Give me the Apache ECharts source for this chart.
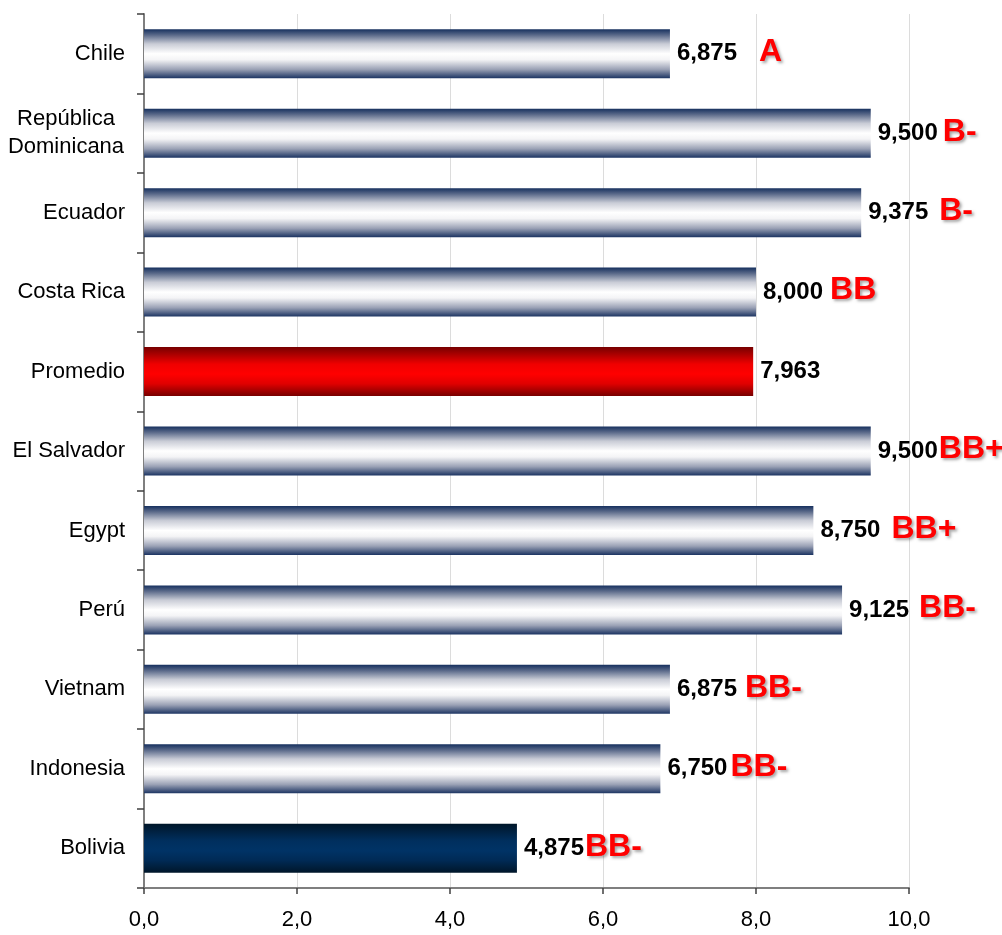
<!DOCTYPE html>
<html>
<head>
<meta charset="utf-8">
<script src="https://cdn.jsdelivr.net/npm/echarts@6/dist/echarts.min.js"></script>
<style>
html,body{margin:0;padding:0;background:#fff;}
#chart{width:1002px;height:935px;}
</style>
</head>
<body>
<div id="chart"></div>
<script>
const categories = ['Chile', 'República\nDominicana', 'Ecuador', 'Costa Rica', 'Promedio', 'El Salvador', 'Egypt', 'Perú', 'Vietnam', 'Indonesia', 'Bolivia'];
const scores = [6.875, 9.5, 9.375, 8.0, 7.963, 9.5, 8.75, 9.125, 6.875, 6.75, 4.875];
const ratings = ['A', 'B-', 'B-', 'BB', '', 'BB+', 'BB+', 'BB-', 'BB-', 'BB-', 'BB-'];
const xTicks = [0, 2, 4, 6, 8, 10];

// style only: gap between value and rating text (px)
const ratingGaps = [22, 5, 11, 7, 0, 1, 11, 10, 8, 3, 1];

const FONT = 'Liberation Sans, Arial, sans-serif';

const navyGrad = new echarts.graphic.LinearGradient(0, 0, 0, 1, [
  { offset: 0, color: '#16305e' },
  { offset: 0.12, color: '#5b6a8a' },
  { offset: 0.3, color: '#c9ccd6' },
  { offset: 0.5, color: '#ffffff' },
  { offset: 0.62, color: '#f4f4f6' },
  { offset: 0.82, color: '#9aa1b5' },
  { offset: 1, color: '#1c3462' }
]);
const redGrad = new echarts.graphic.LinearGradient(0, 0, 0, 1, [
  { offset: 0, color: '#770000' },
  { offset: 0.35, color: '#f00000' },
  { offset: 0.55, color: '#ff0000' },
  { offset: 0.75, color: '#e00000' },
  { offset: 1, color: '#770000' }
]);
const blueGrad = new echarts.graphic.LinearGradient(0, 0, 0, 1, [
  { offset: 0, color: '#001629' },
  { offset: 0.35, color: '#002f5e' },
  { offset: 0.55, color: '#003366' },
  { offset: 0.75, color: '#002a55' },
  { offset: 1, color: '#001629' }
]);

const rich = {
  v: { fontFamily: FONT, fontWeight: 'bold', fontSize: 24, color: '#000', verticalAlign: 'middle' }
};
ratingGaps.forEach((g, i) => {
  rich['r' + i] = {
    fontFamily: FONT, fontWeight: 'bold', fontSize: 32, color: '#ff0000',
    padding: [0, 0, 3, g], verticalAlign: 'middle',
    textShadowColor: 'rgba(0,0,0,0.35)', textShadowBlur: 3, textShadowOffsetX: 2, textShadowOffsetY: 2
  };
});

const fmt = v => v.toFixed(3).replace('.', ',');

const data = scores.map((v, i) => {
  let color = navyGrad;
  if (categories[i] === 'Promedio') color = redGrad;
  if (categories[i] === 'Bolivia') color = blueGrad;
  return { value: v, itemStyle: { color: color } };
});

const chart = echarts.init(document.getElementById('chart'));
chart.setOption({
  animation: false,
  backgroundColor: '#ffffff',
  grid: { left: 144, right: 93, top: 14, bottom: 47, containLabel: false },
  xAxis: {
    type: 'value',
    min: 0, max: 10, interval: 2,
    axisLine: { show: true, lineStyle: { color: '#7f7f7f', width: 2 } },
    axisTick: { show: true, length: 6, lineStyle: { color: '#404040', width: 1.5 } },
    splitLine: { show: true, lineStyle: { color: '#dcdcdc', width: 1 } },
    axisLabel: {
      margin: 21,
      fontFamily: FONT, fontSize: 22, color: '#000',
      formatter: v => xTicks.includes(v) ? v.toFixed(1).replace('.', ',') : ''
    }
  },
  yAxis: {
    type: 'category',
    inverse: true,
    data: categories,
    axisLine: { show: true, lineStyle: { color: '#7f7f7f', width: 2 } },
    axisTick: { show: true, length: 7, lineStyle: { color: '#404040', width: 1.5 } },
    axisLabel: {
      margin: 19,
      fontFamily: FONT, fontSize: 22, color: '#000',
      formatter: v => v.indexOf('\n') >= 0 ? '{m|' + v + '}' : v,
      rich: {
        m: { fontFamily: FONT, fontSize: 22, color: '#000', width: 118, align: 'center', lineHeight: 28 }
      }
    }
  },
  series: [{
    type: 'bar',
    data: data,
    barWidth: 49,
    label: {
      show: true,
      position: 'right',
      distance: 7,
      formatter: p => {
        const r = ratings[p.dataIndex];
        return '{v|' + fmt(p.value) + '}' + (r ? '{r' + p.dataIndex + '|' + r + '}' : '');
      },
      rich: rich
    }
  }]
});
</script>
</body>
</html>
